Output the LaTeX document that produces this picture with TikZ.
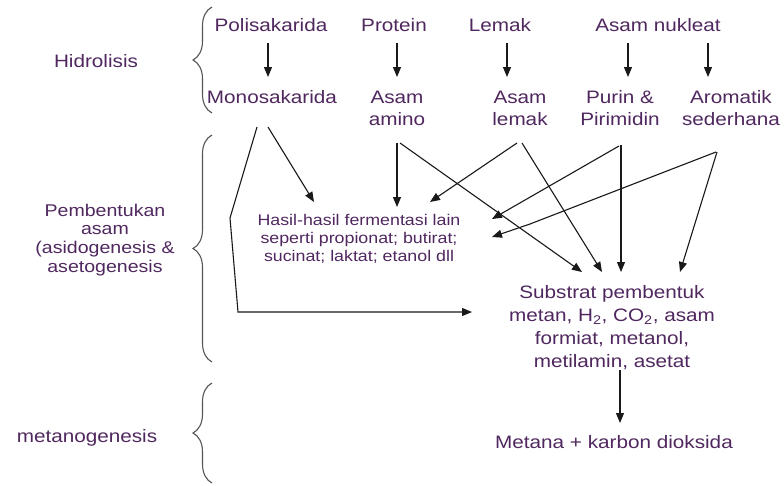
\documentclass[tikz,border=0pt]{standalone}
\usepackage{fontspec}
\setmainfont[FakeStretch=1.15]{Liberation Sans}
\usetikzlibrary{arrows.meta,decorations.pathreplacing}
\definecolor{txt}{RGB}{80,40,95}
\definecolor{ln}{RGB}{25,25,25}
\definecolor{br}{RGB}{85,85,85}
\begin{document}
\begin{tikzpicture}[x=1pt,y=-1pt,
  lbl/.style={text=txt,inner sep=0pt,align=center,font=\fontsize{18}{22}\selectfont},
  sublbl/.style={lbl,font=\fontsize{18}{23}\selectfont},
  hsl/.style={lbl,font=\fontsize{18}{21}\selectfont,scale=0.86,transform shape},
  stage/.style={lbl,font=\fontsize{18}{20}\selectfont,scale=0.945,transform shape},
  arr/.style={draw=ln,line width=1.1pt,-{Triangle[length=10pt,width=8pt]}},
  brc/.style={draw=br,line width=1.1pt,decorate,decoration={brace,amplitude=19pt}}]
\path[fill=white] (0,0) rectangle (784,485);
\useasboundingbox (0,0) rectangle (784,485);

% stage labels
\node[lbl] (hid) at (96,61) {Hidrolisis};
\node[stage] (pemb) at (105,240) {Pembentukan\\asam\\(asidogenesis \&\\asetogenesis};
\node[lbl] (mg) at (87,438) {metanogenesis};

% braces
\draw[brc] (212,113) -- (212,7);
\draw[brc] (212,362) -- (212,135);
\draw[brc] (212,483) -- (212,383);

% top row
\node[lbl] (pol) at (271,25) {Polisakarida};
\node[lbl] (pro) at (394,25) {Protein};
\node[lbl] (lem) at (500,25) {Lemak};
\node[lbl] (nuk) at (658,25) {Asam nukleat};

% second row
\node[lbl] (mono) at (272,97) {Monosakarida};
\node[lbl] (amino) at (397,108) {Asam\\amino};
\node[lbl] (asl) at (520,108) {Asam\\lemak};
\node[lbl] (purin) at (620,108) {Purin \&\\Pirimidin};
\node[lbl] (arom) at (731,108) {Aromatik\\sederhana};

% middle
\node[hsl] (hasil) at (359,239) {Hasil-hasil fermentasi lain\\seperti propionat; butirat;\\sucinat; laktat; etanol dll};
\node[sublbl] (subs) at (612,328) {Substrat pembentuk\\metan, H\textsubscript{2}, CO\textsubscript{2}, asam\\formiat, metanol,\\metilamin, asetat};
\node[lbl] (met) at (614,442) {Metana + karbon dioksida};

% hydrolysis arrows
\draw[arr] ([shift={(-3,18)}]pol.center) -- ([shift={(-4,-20)}]mono.center);
\draw[arr] ([shift={(3,18)}]pro.center) -- ([shift={(0,-31)}]amino.center);
\draw[arr] ([shift={(7,18)}]lem.center) -- ([shift={(-13,-31)}]asl.center);
\draw[arr] ([shift={(-30,18)}]nuk.center) -- ([shift={(8,-31)}]purin.center);
\draw[arr] ([shift={(50,18)}]nuk.center) -- ([shift={(-23,-31)}]arom.center);

% monosakarida
\draw[arr] ([shift={(-15,30)}]mono.center) -- ++(-27,91) -- ++(8,94) -- ([shift={(-140,-16)}]subs.center);
\draw[arr] ([shift={(-4,30)}]mono.center) -- ([shift={(-45,-37)}]hasil.center);

% asam amino
\draw[arr] ([shift={(0,35)}]amino.center) -- ([shift={(38,-32)}]hasil.center);
\draw[arr] ([shift={(3,35)}]amino.center) -- ([shift={(-30,-56)}]subs.center);

% asam lemak
\draw[arr] ([shift={(-3,35)}]asl.center) -- ([shift={(71,-37)}]hasil.center);
\draw[arr] ([shift={(2,35)}]asl.center) -- ([shift={(-10,-56)}]subs.center);

% purin
\draw[arr] ([shift={(1,37)}]purin.center) -- ([shift={(9,-56)}]subs.center);
\draw[arr] ([shift={(-1,38)}]purin.center) -- ([shift={(133,-20)}]hasil.center);

% aromatik
\draw[arr] ([shift={(-14,44)}]arom.center) -- ([shift={(68,-56)}]subs.center);
\draw[arr] ([shift={(-15,44)}]arom.center) -- ++(-186,72) -- ([shift={(133,-2)}]hasil.center);

% methanogenesis
\draw[arr] ([shift={(8,42)}]subs.center) -- ([shift={(6,-19)}]met.center);
\end{tikzpicture}
\end{document}
